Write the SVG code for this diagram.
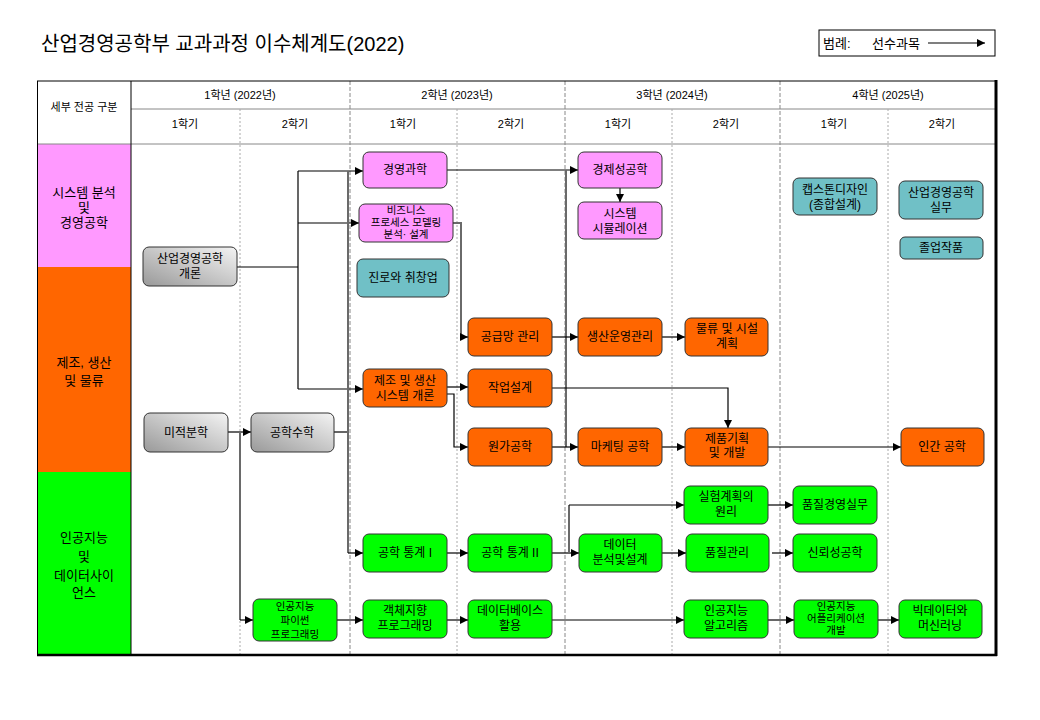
<svg xmlns="http://www.w3.org/2000/svg" width="1040" height="720" viewBox="0 0 1040 720">
<defs>
<style>
text{font-family:"Liberation Sans","Noto Sans CJK KR",sans-serif;fill:#000}
.t{font-size:12px;text-anchor:middle}
.s{font-size:10.5px;text-anchor:middle}
.h{font-size:11px;text-anchor:middle}
.cat{font-size:13px;text-anchor:middle}
.n{stroke:#333;stroke-width:1}
.pk{fill:#ff99ff}.or{fill:#ff6600}.gr{fill:#00ff00}.tl{fill:#70c0c6}.gy{fill:url(#gg)}
.c{fill:none;stroke:#000;stroke-width:1.2}
.g{fill:none;stroke:#6a6a6a;stroke-width:2}
.a{marker-end:url(#ar)}
.ys{stroke:#888;stroke-width:1;stroke-dasharray:4,2}
.ss{stroke:#aaa;stroke-width:1;stroke-dasharray:2,2}
</style>
<linearGradient id="gg" x1="0" y1="1" x2="1" y2="0">
<stop offset="0" stop-color="#999"/>
<stop offset="1" stop-color="#f4f4f4"/>
</linearGradient>
<marker id="ar" markerUnits="userSpaceOnUse" viewBox="0 0 10 10" markerWidth="10" markerHeight="8" refX="10" refY="5" orient="auto">
<path d="M0,0 L10,5 L0,10 z" fill="#000"/>
</marker>
</defs>
<rect width="1040" height="720" fill="#fff"/>
<text x="41" y="51" style="font-size:20px">산업경영공학부 교과과정 이수체계도(2022)</text>
<g id="legend">
<rect x="819" y="30" width="176" height="26" fill="#fff" stroke="#000"/>
<text x="823" y="48" style="font-size:13px">범례:</text>
<text x="872" y="48" style="font-size:13px">선수과목</text>
<line x1="928" y1="43" x2="985" y2="43" class="c a"/>
</g>
<g id="table">
<rect x="37" y="144" width="94" height="123" fill="#ff99ff"/>
<rect x="37" y="267" width="94" height="205" fill="#ff6600"/>
<rect x="37" y="472" width="94" height="183" fill="#00ff00"/>
<line x1="131" y1="109" x2="996" y2="109" stroke="#888"/>
<line x1="37" y1="144" x2="996" y2="144" stroke="#888"/>
<line x1="350" y1="81" x2="350" y2="655" class="ys"/>
<line x1="565" y1="81" x2="565" y2="655" class="ys"/>
<line x1="780" y1="81" x2="780" y2="655" class="ys"/>
<line x1="240" y1="109" x2="240" y2="655" class="ss"/>
<line x1="457" y1="109" x2="457" y2="655" class="ss"/>
<line x1="672" y1="109" x2="672" y2="655" class="ss"/>
<line x1="888" y1="109" x2="888" y2="655" class="ss"/>
<line x1="131" y1="81" x2="131" y2="655" stroke="#000"/>
<line x1="37" y1="81" x2="996" y2="81" stroke="#000"/>
<line x1="37.5" y1="81" x2="37.5" y2="655" stroke="#000"/>
<line x1="996" y1="80" x2="996" y2="656" stroke="#000" stroke-width="3"/>
<line x1="37" y1="655" x2="997" y2="655" stroke="#000" stroke-width="2.5"/>
<text x="84" y="111" class="h">세부 전공 구분</text>
<text x="240" y="99" class="h">1학년 (2022년)</text>
<text x="457" y="99" class="h">2학년 (2023년)</text>
<text x="672" y="99" class="h">3학년 (2024년)</text>
<text x="888" y="99" class="h">4학년 (2025년)</text>
<text x="185" y="128" class="h">1학기</text>
<text x="295" y="128" class="h">2학기</text>
<text x="403" y="128" class="h">1학기</text>
<text x="511" y="128" class="h">2학기</text>
<text x="618" y="128" class="h">1학기</text>
<text x="726" y="128" class="h">2학기</text>
<text x="834" y="128" class="h">1학기</text>
<text x="942" y="128" class="h">2학기</text>
<text x="84" y="197" class="cat">시스템 분석</text>
<text x="84" y="212" class="cat">및</text>
<text x="84" y="227" class="cat">경영공학</text>
<text x="84" y="367" class="cat">제조, 생산</text>
<text x="84" y="385" class="cat">및 물류</text>
<text x="84" y="542" class="cat">인공지능</text>
<text x="84" y="561" class="cat">및</text>
<text x="84" y="580" class="cat">데이터사이</text>
<text x="84" y="597" class="cat">언스</text>
</g>
<g id="connectors">
<path d="M237,267 H298" class="c"/>
<path d="M298,171 V389" class="c"/>
<path d="M298,171 H363" class="c a"/>
<path d="M298,223 H359" class="c a"/>
<path d="M298,389 H363" class="c a"/>
<path d="M447,170 H578" class="c a"/>
<path d="M566,170 V447" class="g"/>
<path d="M620,188 V202" class="c a"/>
<path d="M453,223 H461 V337" class="g"/>
<path d="M461,337 H468" class="c a"/>
<path d="M552,337 H578" class="c a"/>
<path d="M662,337 H685" class="c a"/>
<path d="M447,387 H468" class="c a"/>
<path d="M447,394 H454 V447 H468" class="c a"/>
<path d="M552,388 H728 V428" class="c a"/>
<path d="M552,447 H578" class="c a"/>
<path d="M662,447 H685" class="c a"/>
<path d="M768,447 H901" class="c a"/>
<path d="M228,432 H251" class="c a"/>
<path d="M240,432 V620" class="g"/>
<path d="M240,620 H253" class="c a"/>
<path d="M334,432 H348" class="c"/>
<path d="M348,171 V553" class="g"/>
<path d="M348,553 H363" class="c a"/>
<path d="M447,553 H468" class="c a"/>
<path d="M552,553 H579" class="c a"/>
<path d="M569,553 V505" class="g"/>
<path d="M569,505 H684" class="c a"/>
<path d="M662,553 H686" class="c a"/>
<path d="M772,553 H793" class="c a"/>
<path d="M768,505 H793" class="c a"/>
<path d="M337,620 H363" class="c a"/>
<path d="M447,620 H468" class="c a"/>
<path d="M552,620 H684" class="c a"/>
<path d="M768,620 H794" class="c a"/>
<path d="M878,620 H899" class="c a"/>
</g>
<g id="n-intro"><rect x="143" y="247" width="94" height="39" rx="6" class="n gy"/><text x="190" y="263" class="t">산업경영공학</text><text x="190" y="278" class="t">개론</text></g>
<g id="n-calc"><rect x="144" y="413" width="84" height="39" rx="6" class="n gy"/><text x="186" y="437" class="t">미적분학</text></g>
<g id="n-engmath"><rect x="251" y="413" width="83" height="39" rx="6" class="n gy"/><text x="292" y="437" class="t">공학수학</text></g>
<g id="n-ms"><rect x="363" y="152" width="84" height="36" rx="6" class="n pk"/><text x="405" y="174" class="t">경영과학</text></g>
<g id="n-bpm"><rect x="359" y="204" width="94" height="38" rx="6" class="n pk"/><text x="406" y="214" class="s">비즈니스</text><text x="406" y="226" class="s">프로세스 모델링</text><text x="406" y="238" class="s">분석· 설계</text></g>
<g id="n-career"><rect x="357" y="259" width="92" height="38" rx="6" class="n tl"/><text x="403" y="282" class="t">진로와 취창업</text></g>
<g id="n-econ"><rect x="578" y="152" width="84" height="36" rx="6" class="n pk"/><text x="620" y="174" class="t">경제성공학</text></g>
<g id="n-sim"><rect x="578" y="202" width="84" height="37" rx="6" class="n pk"/><text x="620" y="218" class="t">시스템</text><text x="620" y="233" class="t">시뮬레이션</text></g>
<g id="n-capstone"><rect x="793" y="178" width="84" height="37" rx="6" class="n tl"/><text x="835" y="194" class="t">캡스톤디자인</text><text x="835" y="209" class="t">(종합설계)</text></g>
<g id="n-practice"><rect x="899" y="181" width="84" height="38" rx="6" class="n tl"/><text x="941" y="197" class="t">산업경영공학</text><text x="941" y="212" class="t">실무</text></g>
<g id="n-grad"><rect x="900" y="237" width="83" height="22" rx="5" class="n tl"/><text x="941" y="252" class="t">졸업작품</text></g>
<g id="n-scm"><rect x="468" y="318" width="84" height="38" rx="6" class="n or"/><text x="510" y="341" class="t">공급망 관리</text></g>
<g id="n-pom"><rect x="578" y="318" width="84" height="38" rx="6" class="n or"/><text x="620" y="341" class="t">생산운영관리</text></g>
<g id="n-logis"><rect x="685" y="318" width="83" height="38" rx="6" class="n or"/><text x="727" y="333" class="t">물류 및 시설</text><text x="727" y="348" class="t">계획</text></g>
<g id="n-mfg"><rect x="363" y="369" width="84" height="38" rx="6" class="n or"/><text x="405" y="385" class="t">제조 및 생산</text><text x="405" y="400" class="t">시스템 개론</text></g>
<g id="n-work"><rect x="468" y="369" width="84" height="38" rx="6" class="n or"/><text x="510" y="392" class="t">작업설계</text></g>
<g id="n-cost"><rect x="468" y="428" width="84" height="38" rx="6" class="n or"/><text x="510" y="451" class="t">원가공학</text></g>
<g id="n-mkt"><rect x="578" y="428" width="84" height="38" rx="6" class="n or"/><text x="620" y="451" class="t">마케팅 공학</text></g>
<g id="n-pd"><rect x="685" y="428" width="83" height="38" rx="6" class="n or"/><text x="727" y="443" class="t">제품기획</text><text x="727" y="457" class="t">및 개발</text></g>
<g id="n-hf"><rect x="901" y="428" width="83" height="38" rx="6" class="n or"/><text x="942" y="451" class="t">인간 공학</text></g>
<g id="n-doe"><rect x="684" y="486" width="84" height="38" rx="6" class="n gr"/><text x="726" y="501" class="t">실험계획의</text><text x="726" y="516" class="t">원리</text></g>
<g id="n-qmp"><rect x="793" y="486" width="84" height="38" rx="6" class="n gr"/><text x="835" y="509" class="t">품질경영실무</text></g>
<g id="n-qc"><rect x="686" y="534" width="83" height="38" rx="6" class="n gr"/><text x="727" y="557" class="t">품질관리</text></g>
<g id="n-rel"><rect x="793" y="534" width="84" height="38" rx="6" class="n gr"/><text x="835" y="557" class="t">신뢰성공학</text></g>
<g id="n-stat1"><rect x="363" y="534" width="84" height="38" rx="6" class="n gr"/><text x="405" y="557" class="t">공학 통계 I</text></g>
<g id="n-stat2"><rect x="468" y="534" width="84" height="38" rx="6" class="n gr"/><text x="510" y="557" class="t">공학 통계 II</text></g>
<g id="n-data"><rect x="579" y="534" width="83" height="38" rx="6" class="n gr"/><text x="620" y="549" class="t">데이터</text><text x="620" y="564" class="t">분석및설계</text></g>
<g id="n-py"><rect x="253" y="599" width="84" height="42" rx="6" class="n gr"/><text x="295" y="610" class="s">인공지능</text><text x="295" y="624" class="s">파이썬</text><text x="295" y="638" class="s">프로그래밍</text></g>
<g id="n-oop"><rect x="363" y="600" width="84" height="38" rx="6" class="n gr"/><text x="405" y="615" class="t">객체지향</text><text x="405" y="630" class="t">프로그래밍</text></g>
<g id="n-db"><rect x="468" y="600" width="84" height="38" rx="6" class="n gr"/><text x="510" y="615" class="t">데이터베이스</text><text x="510" y="630" class="t">활용</text></g>
<g id="n-aialg"><rect x="684" y="600" width="84" height="38" rx="6" class="n gr"/><text x="726" y="615" class="t">인공지능</text><text x="726" y="630" class="t">알고리즘</text></g>
<g id="n-aiapp"><rect x="794" y="600" width="84" height="38" rx="6" class="n gr"/><text x="836" y="610" class="s">인공지능</text><text x="836" y="622" class="s">어플리케이션</text><text x="836" y="634" class="s">개발</text></g>
<g id="n-bigdata"><rect x="899" y="600" width="83" height="38" rx="6" class="n gr"/><text x="940" y="615" class="t">빅데이터와</text><text x="940" y="630" class="t">머신러닝</text></g>
</svg>
